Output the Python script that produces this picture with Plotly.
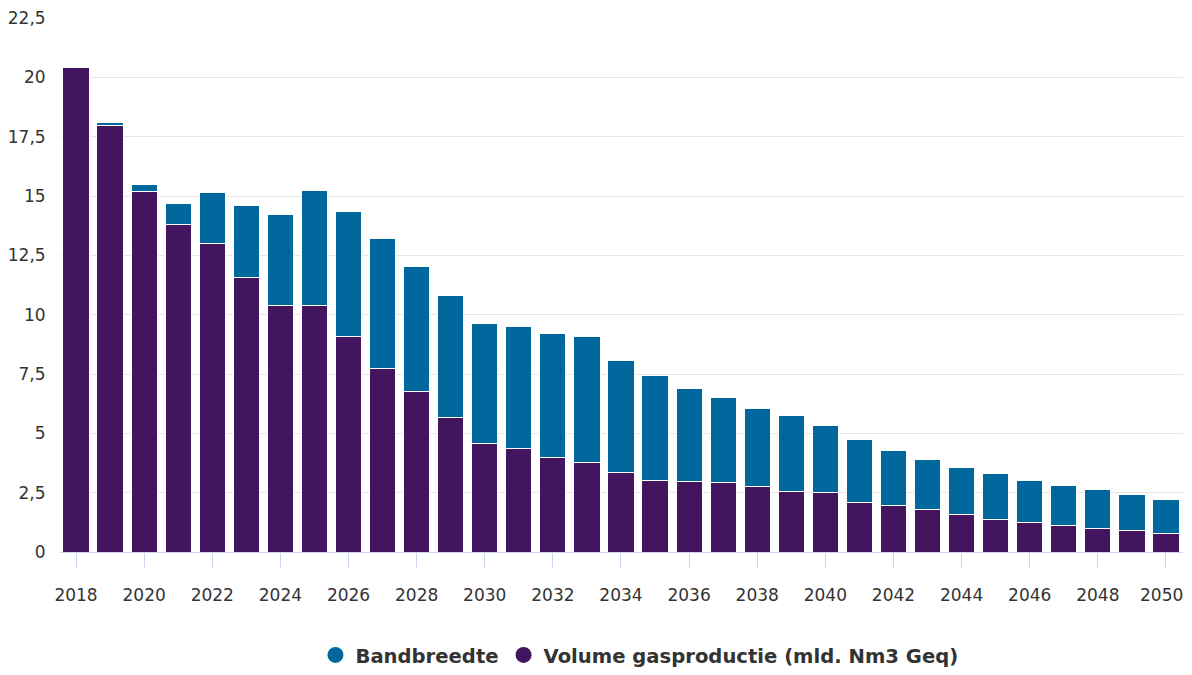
import plotly.graph_objects as go

years = list(range(2018, 2051))
volume = [20.4, 17.95, 15.2, 13.8, 13.0, 11.55, 10.4, 10.37, 9.1, 7.75, 6.78, 5.65,
          4.59, 4.38, 4.0, 3.79, 3.33, 3.03, 2.99, 2.91, 2.74, 2.53, 2.49, 2.1,
          1.98, 1.77, 1.57, 1.38, 1.25, 1.11, 0.97, 0.91, 0.77]
total = [20.4, 18.08, 15.5, 14.7, 15.13, 14.58, 14.24, 15.25, 14.33, 13.19, 12.05, 10.79,
         9.61, 9.52, 9.19, 9.06, 8.05, 7.42, 6.87, 6.53, 6.03, 5.77, 5.35, 4.75,
         4.28, 3.89, 3.55, 3.29, 3.03, 2.82, 2.63, 2.43, 2.23]
band = [round(t - v, 3) for t, v in zip(total, volume)]
ytickvals = [0, 2.5, 5, 7.5, 10, 12.5, 15, 17.5, 20, 22.5]
yticktext = ["0", "2,5", "5", "7,5", "10", "12,5", "15", "17,5", "20", "22,5"]
xtickvals = list(range(2018, 2051, 2))
xticktext = [str(v) for v in xtickvals[:-1]] + [""]
last_label = str(xtickvals[-1])

PURPLE = "#43155e"
BLUE = "#00689c"
FONT = "DejaVu Sans"

fig = go.Figure()
fig.add_trace(go.Bar(x=years, y=volume, name="Volume gasproductie (mld. Nm3 Geq)",
                     marker=dict(color=PURPLE, line=dict(color="white", width=1)),
                     showlegend=False))
fig.add_trace(go.Bar(x=years, y=band, name="Bandbreedte",
                     marker=dict(color=BLUE, line=dict(color="white", width=1)),
                     showlegend=False))
fig.add_trace(go.Scatter(x=[None], y=[None], mode="markers", name="Bandbreedte",
                         marker=dict(color=BLUE, size=18, symbol="circle")))
fig.add_trace(go.Scatter(x=[None], y=[None], mode="markers",
                         name="Volume gasproductie (mld. Nm3 Geq)",
                         marker=dict(color=PURPLE, size=18, symbol="circle")))

# last x tick label, nudged left to stay inside the frame (as in the original)
fig.add_annotation(x=xtickvals[-1], xref="x", y=0, yref="paper", text=last_label,
                   showarrow=False, xanchor="center", yanchor="middle",
                   xshift=-4, yshift=-43,
                   font=dict(family=FONT, size=17, color="#333333"))

fig.update_layout(
    width=1176, height=659,
    barmode="stack", bargap=0.23,
    plot_bgcolor="white", paper_bgcolor="white",
    margin=dict(l=52, r=1, t=10, b=115, autoexpand=False),
    font=dict(family=FONT, color="#333333", size=17),
    showlegend=True,
    legend=dict(orientation="h", x=0.516, xanchor="center",
                yref="container", y=0.018, yanchor="middle",
                traceorder="normal",
                font=dict(family=FONT, size=19.6, color="#333333", weight="bold"),
                itemsizing="trace", tracegroupgap=0, itemwidth=30),
    xaxis=dict(range=[2017.53, 2050.5], tickvals=xtickvals, ticktext=xticktext,
               showgrid=False, ticklabeloverflow="allow",
               showline=True, linecolor="#ccd6eb", linewidth=1, automargin=False,
               ticks="outside", ticklen=15, tickcolor="#ccd6eb", tickwidth=1,
               ticklabelstandoff=13, tickfont=dict(size=17, color="#333333")),
    yaxis=dict(range=[0, 22.5], tickvals=ytickvals, ticktext=yticktext,
               showgrid=True, gridcolor="#e6e6e6", gridwidth=1, zeroline=False,
               showline=False, ticks="outside", ticklen=10, automargin=False,
               tickcolor="rgba(0,0,0,0)", ticklabeloverflow="allow",
               tickfont=dict(size=17, color="#333333")),
)

fig.write_html("out.html")
